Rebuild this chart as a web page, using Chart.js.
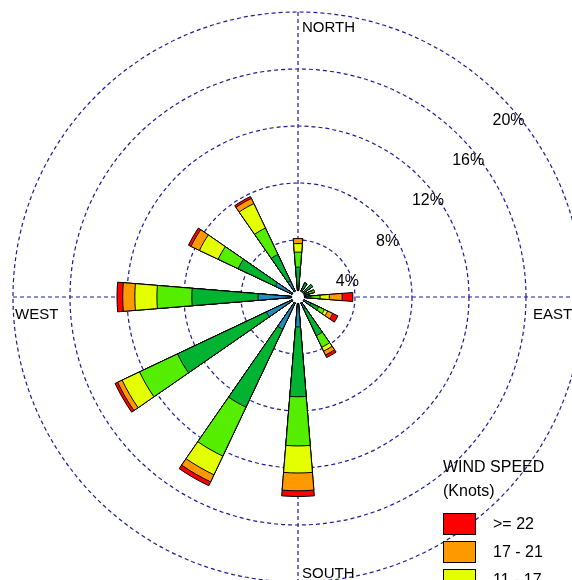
<!DOCTYPE html>
<html>
<head>
<meta charset="utf-8">
<script src="https://cdn.jsdelivr.net/npm/chart.js@4.4.1/dist/chart.umd.min.js"></script>
<style>
  html, body { margin: 0; padding: 0; overflow: hidden; background: #fff; }
  #wrap { position: absolute; left: 0; top: 0; width: 596px; height: 594px; }
</style>
</head>
<body>
<div id="wrap"><canvas id="windRose" width="596" height="594"></canvas></div>
<script>
// wind directions, degrees from north (10 degree sectors)
const directions = [0, 10, 20, 30, 40, 50, 60, 70, 80, 90, 100, 110, 120, 130, 140, 150, 160, 170,
  180, 190, 200, 210, 220, 230, 240, 250, 260, 270, 280, 290, 300, 310, 320, 330, 340, 350];

// frequency (%) per speed class, one value per direction
const speed1to4 =   [0.5, 0, 0, 0.3, 0, 0.3, 0, 0.3, 0, 0.4, 0, 0, 1.0, 0, 0, 0.9, 0, 0, 2.1, 0, 0, 2.5, 0, 0, 2.45, 0, 0, 2.8, 0, 0, 1.75, 0, 0, 1.25, 0, 0];
const speed4to7 =   [1.6, 0, 0, 0.8, 0, 0.95, 0, 0.5, 0, 0.5, 0, 0, 0.6, 0, 0, 2.1, 0, 0, 4.9, 0, 0, 6.05, 0, 0, 6.9, 0, 0, 4.65, 0, 0, 2.9, 0, 0, 2.05, 0, 0];
const speed7to11 =  [1.05, 0, 0, 0, 0, 0, 0, 0.25, 0, 0.65, 0, 0, 0.45, 0, 0, 0.9, 0, 0, 3.45, 0, 0, 3.8, 0, 0, 2.95, 0, 0, 2.45, 0, 0, 1.55, 0, 0, 2.05, 0, 0];
const speed11to17 = [0.6, 0, 0, 0, 0, 0, 0, 0.15, 0, 0.65, 0, 0, 0.25, 0, 0, 0.3, 0, 0, 1.9, 0, 0, 1.45, 0, 0, 1.35, 0, 0, 1.55, 0, 0, 1.45, 0, 0, 1.9, 0, 0];
const speed17to21 = [0.35, 0, 0, 0, 0, 0, 0, 0, 0, 0.9, 0, 0, 0.4, 0, 0, 0.3, 0, 0, 1.25, 0, 0, 0.55, 0, 0, 0.35, 0, 0, 0.85, 0, 0, 0.65, 0, 0, 0.4, 0, 0];
const speed22up =   [0, 0, 0, 0, 0, 0, 0, 0, 0, 0.75, 0, 0, 0.4, 0, 0, 0.2, 0, 0, 0.4, 0, 0, 0.3, 0, 0, 0.2, 0, 0, 0.4, 0, 0, 0.2, 0, 0, 0.15, 0, 0];

const speedClasses = ["1 - 4", "4 - 7", "7 - 11", "11 - 17", "17 - 21", ">= 22"];
const speedColors = ["#1f8fc0", "#00b431", "#55ee00", "#e4ff00", "#ff9900", "#ff0000"];
const speedSeries = [speed1to4, speed4to7, speed7to11, speed11to17, speed17to21, speed22up];

const radialTicks = [4, 8, 12, 16, 20];
const compassLabels = ["NORTH", "EAST", "SOUTH", "WEST"];

document.addEventListener("DOMContentLoaded", function () {
  const FONT = '"Liberation Sans", Arial, sans-serif';
  const GRID = "#1c1c9a";
  const WEDGE = 9.4; // degrees per direction bar, rest of the 10 is a gap

  const labels = [];
  directions.forEach((d) => { labels.push(String(d)); labels.push(""); });

  // stack the classes: every dataset holds the running total
  const running = directions.map(() => 0);
  const datasets = speedSeries.map((series, k) => {
    const data = [];
    series.forEach((v, i) => {
      running[i] += v;
      data.push(+running[i].toFixed(3));
      data.push(0);
    });
    return {
      label: speedClasses[k],
      data: data,
      backgroundColor: speedColors[k],
      borderColor: "#000",
      borderWidth: 1,
      angle: (c) => (c.index % 2 === 0 ? WEDGE : 10 - WEDGE),
    };
  });

  const roseDecor = {
    id: "roseDecor",
    beforeDatasetsDraw(chart) {
      const s = chart.scales.r;
      const c = chart.ctx;
      const R = s.drawingArea;
      c.save();
      c.strokeStyle = GRID;
      c.lineWidth = 1.2;
      c.setLineDash([4, 3]);
      c.beginPath();
      c.moveTo(s.xCenter, s.yCenter - R);
      c.lineTo(s.xCenter, s.yCenter + R);
      c.moveTo(s.xCenter - R, s.yCenter);
      c.lineTo(s.xCenter + R, s.yCenter);
      c.stroke();
      c.restore();
    },
    afterDatasetsDraw(chart) {
      const s = chart.scales.r;
      const c = chart.ctx;
      const cx = s.xCenter, cy = s.yCenter, R = s.drawingArea;
      c.save();
      // calm circle in the middle
      c.fillStyle = "#fff";
      c.beginPath();
      c.arc(cx, cy, 6, 0, Math.PI * 2);
      c.fill();

      c.fillStyle = "#000";
      c.font = "16px " + FONT;
      c.textAlign = "center";
      c.textBaseline = "middle";
      radialTicks.forEach((t) => {
        const r = s.getDistanceFromCenterForValue(t);
        c.fillText(t + "%", cx + r * Math.SQRT1_2 + 9, cy - r * Math.SQRT1_2 + 25);
      });

      c.font = "15px " + FONT;
      c.textAlign = "left";
      c.textBaseline = "alphabetic";
      c.fillText(compassLabels[0], cx + 4, cy - R + 20);
      c.fillText(compassLabels[1], cx + R - 50, cy + 22);
      c.fillText(compassLabels[2], cx + 4, cy + R - 4);
      c.fillText(compassLabels[3], cx - R + 2, cy + 22);

      // legend, strongest class first
      c.font = "16px " + FONT;
      c.fillText("WIND SPEED", 443, 472);
      c.fillText("(Knots)", 443, 496);
      let y = 513;
      for (let k = datasets.length - 1; k >= 0; k--) {
        c.fillStyle = datasets[k].backgroundColor;
        c.fillRect(443.5, y + 0.5, 32, 21);
        c.strokeStyle = "#000";
        c.lineWidth = 1;
        c.strokeRect(443.5, y + 0.5, 32, 21);
        c.fillStyle = "#000";
        c.textBaseline = "middle";
        c.fillText(datasets[k].label, 493, y + 12);
        c.textBaseline = "alphabetic";
        y += 28;
      }
      c.restore();
    },
  };

  const ctx = document.getElementById("windRose").getContext("2d");
  new Chart(ctx, {
    type: "polarArea",
    data: { labels: labels, datasets: datasets },
    options: {
      responsive: false,
      animation: false,
      layout: { padding: { left: 13, right: 13, top: 12, bottom: 12 } },
      scales: {
        r: {
          min: 0,
          max: 20,
          startAngle: -WEDGE / 2,
          ticks: { stepSize: 4, display: false },
          grid: { circular: true, color: GRID, lineWidth: 1.2 },
          border: { dash: [4, 3] },
          angleLines: { display: false },
          pointLabels: { display: false },
        },
      },
      plugins: {
        legend: { display: false },
        tooltip: { enabled: false },
      },
    },
    plugins: [roseDecor],
  });
});
</script>
</body>
</html>
